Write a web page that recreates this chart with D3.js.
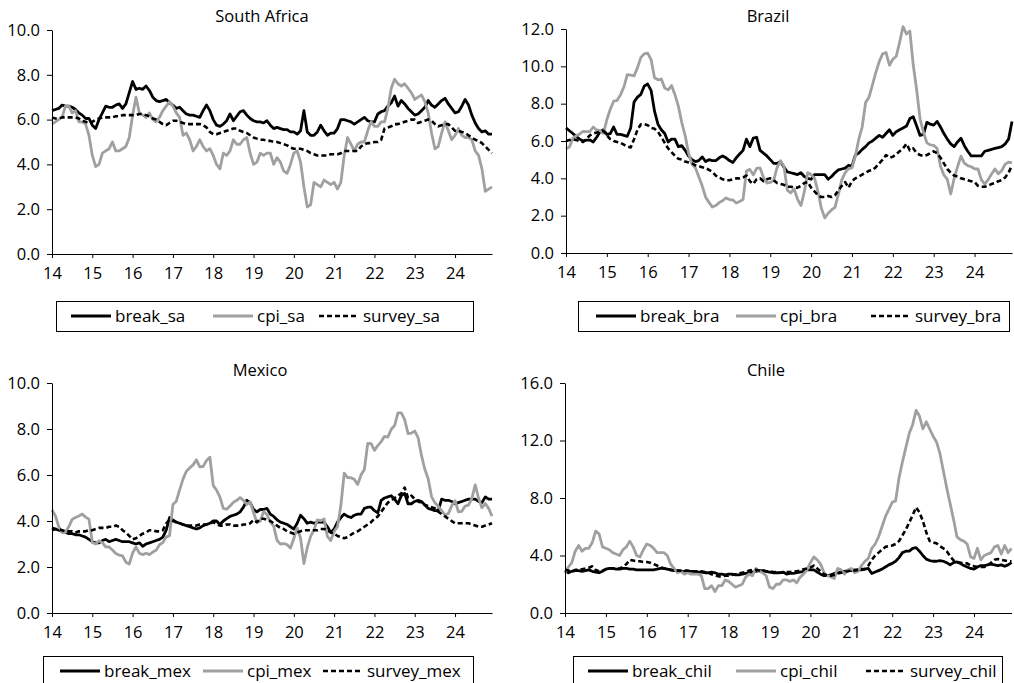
<!DOCTYPE html>
<html>
<head>
<meta charset="utf-8">
<script src="https://cdn.jsdelivr.net/npm/d3@7"></script>
<style>
  body { margin: 0; background: #fff; }
  text { font-family: "Open Sans", sans-serif; fill: #000; }
</style>
</head>
<body>
<svg id="chart" width="1014" height="683"></svg>
<script>

// monthly, Jan 2014 .. Dec 2024 (132 points)
const yearLabels = ["14","15","16","17","18","19","20","21","22","23","24"]
const seriesNames = ["break", "cpi", "survey"]

const sa_break = [6.4,6.45,6.5,6.65,6.6,6.6,6.55,6.45,6.3,6.2,6.05,6.05,
  5.75,5.6,6.0,6.3,6.6,6.55,6.55,6.65,6.7,6.5,6.7,7.2,
  7.7,7.35,7.4,7.35,7.5,7.3,7.0,6.85,6.8,6.85,6.9,6.75,
  6.65,6.5,6.55,6.4,6.25,6.2,6.2,6.15,6.1,6.4,6.65,6.4,
  6.0,5.75,5.7,5.8,5.95,6.25,5.95,6.15,6.35,6.4,6.2,6.05,
  5.95,5.9,5.9,5.85,5.95,5.75,5.6,5.65,5.6,5.55,5.55,5.45,
  5.45,5.35,5.5,6.4,5.45,5.3,5.3,5.45,5.75,5.5,5.3,5.4,
  5.4,5.6,6.0,6.0,5.95,5.9,5.8,5.9,6.0,6.1,5.95,5.9,
  5.9,6.25,6.35,6.4,6.6,6.75,7.05,6.6,6.85,6.7,6.5,6.35,
  6.2,6.25,6.4,6.55,6.85,6.65,6.55,6.7,6.85,6.95,6.7,6.5,
  6.3,6.35,6.6,6.9,6.65,6.2,5.85,5.6,5.45,5.5,5.35,5.35]
const sa_cpi = [5.8,5.9,6.0,6.1,6.6,6.6,6.3,6.4,5.9,5.9,5.8,5.3,
  4.4,3.9,4.0,4.5,4.6,4.7,5.0,4.6,4.6,4.7,4.8,5.2,
  6.2,7.0,6.3,6.2,6.1,6.3,6.0,5.9,6.1,6.4,6.6,6.8,
  6.6,6.3,6.1,5.3,5.4,5.1,4.6,4.8,5.1,4.8,4.6,4.7,
  4.4,4.0,3.8,4.5,4.4,4.6,5.1,4.9,4.9,5.1,5.2,4.5,
  4.0,4.1,4.5,4.4,4.5,4.5,4.0,4.3,4.1,3.7,3.6,4.0,
  4.5,4.6,4.1,3.0,2.1,2.2,3.2,3.1,3.0,3.3,3.2,3.1,
  3.2,2.9,3.2,4.4,5.2,4.9,4.6,4.9,5.0,5.0,5.5,5.9,
  5.7,5.7,5.9,5.9,6.5,7.4,7.8,7.6,7.5,7.6,7.4,7.2,
  6.9,7.0,7.1,6.8,6.3,5.4,4.7,4.8,5.4,5.9,5.5,5.1,
  5.3,5.6,5.3,5.2,5.2,5.1,4.6,4.4,3.8,2.8,2.9,3.0]
const sa_survey = [6.1,6.05,6.05,6.1,6.1,6.1,6.1,6.1,6.05,5.95,5.9,5.85,
  5.9,6.0,6.05,6.1,6.1,6.1,6.1,6.15,6.15,6.2,6.2,6.2,
  6.2,6.2,6.25,6.25,6.2,6.15,6.05,6.0,5.9,5.8,5.75,5.85,
  5.95,5.95,5.9,5.85,5.8,5.8,5.8,5.8,5.8,5.75,5.65,5.45,
  5.35,5.35,5.4,5.45,5.5,5.55,5.6,5.6,5.5,5.45,5.4,5.3,
  5.2,5.15,5.1,5.1,5.05,5.05,5.0,5.0,4.95,4.9,4.85,4.75,
  4.7,4.7,4.7,4.65,4.6,4.5,4.45,4.4,4.4,4.4,4.4,4.45,
  4.45,4.45,4.5,4.6,4.6,4.6,4.6,4.6,4.8,4.9,4.95,4.95,
  5.0,5.0,5.1,5.6,5.65,5.7,5.8,5.8,5.85,5.9,5.95,6.0,
  6.0,5.85,5.9,5.95,6.0,5.95,5.8,5.7,5.75,5.8,5.8,5.65,
  5.5,5.5,5.45,5.4,5.3,5.2,5.1,5.05,4.95,4.8,4.65,4.5]

const bra_break = [6.7,6.55,6.4,6.25,6.1,6.0,6.05,6.05,5.95,6.2,6.5,6.6,
  6.35,6.4,6.75,6.35,6.35,6.3,6.25,6.7,8.1,8.35,8.5,8.95,
  9.05,8.7,7.6,6.9,6.6,6.4,5.95,6.1,6.1,5.7,5.75,5.5,
  5.2,5.0,4.9,4.95,5.15,4.9,5.0,4.95,4.95,5.1,5.2,5.1,
  4.95,4.85,5.1,5.3,5.5,6.1,5.7,6.15,6.2,5.5,5.35,5.2,
  5.0,4.8,4.8,4.9,4.6,4.35,4.3,4.25,4.2,4.3,4.1,4.0,
  3.95,4.2,4.2,4.2,4.2,3.95,4.1,4.3,4.45,4.5,4.55,4.7,
  4.65,5.25,5.35,5.55,5.7,5.9,6.0,6.15,6.3,6.2,6.4,6.6,
  6.3,6.5,6.6,6.7,6.8,7.2,7.3,6.8,6.3,6.35,7.0,6.9,
  6.85,7.05,6.75,6.4,6.1,5.85,5.7,5.95,6.15,5.75,5.45,5.2,
  5.2,5.2,5.2,5.45,5.5,5.55,5.6,5.65,5.7,5.85,6.1,7.05]
const bra_cpi = [5.59,5.68,6.15,6.28,6.37,6.52,6.50,6.51,6.75,6.59,6.56,6.41,
  7.14,7.70,8.13,8.17,8.47,8.89,9.56,9.53,9.49,9.93,10.48,10.67,
  10.71,10.36,9.39,9.28,9.32,8.84,8.74,8.97,8.48,7.87,6.99,6.29,
  5.35,4.76,4.57,4.08,3.60,3.00,2.71,2.46,2.54,2.70,2.80,2.95,
  2.86,2.84,2.68,2.76,2.86,4.39,4.48,4.19,4.53,4.56,4.05,3.75,
  3.78,3.89,4.58,4.94,4.66,3.37,3.22,3.43,2.89,2.54,3.27,4.31,
  4.19,4.01,3.30,2.40,1.88,2.13,2.31,2.44,3.14,3.92,4.31,4.52,
  4.56,5.20,6.10,6.76,8.06,8.35,8.99,9.68,10.25,10.67,10.74,10.06,
  10.38,10.54,11.30,12.13,11.73,11.89,10.07,8.73,7.17,6.47,5.90,5.79,
  5.77,5.60,4.65,4.18,3.94,3.16,3.99,4.61,5.19,4.82,4.68,4.62,
  4.51,4.50,3.93,3.69,3.93,4.23,4.50,4.24,4.42,4.76,4.87,4.83]
const bra_survey = [6.0,6.05,6.1,6.05,6.0,5.95,6.1,6.3,6.4,6.45,6.5,6.55,
  6.3,6.1,6.0,5.95,5.9,5.8,5.7,5.65,6.1,6.6,6.9,6.9,
  6.85,6.7,6.65,6.5,6.2,5.9,5.6,5.4,5.2,5.05,5.0,4.9,
  4.85,4.8,4.7,4.65,4.6,4.55,4.45,4.35,4.15,4.05,3.95,3.9,
  3.9,3.95,4.0,4.0,4.05,4.15,3.85,3.7,3.95,4.0,3.85,3.95,
  4.0,3.9,3.75,3.7,3.65,3.55,3.55,3.5,3.5,3.6,3.75,3.8,
  3.5,3.3,3.1,3.0,3.0,3.05,3.0,3.1,3.35,3.6,3.8,3.5,
  3.85,4.0,4.1,4.2,4.3,4.4,4.45,4.6,4.8,5.0,5.25,5.1,
  5.15,5.3,5.45,5.6,5.85,5.5,5.6,5.35,5.25,5.2,5.25,5.35,
  5.45,5.35,5.1,4.8,4.5,4.3,4.15,4.1,4.0,3.95,3.9,3.85,
  3.8,3.6,3.55,3.55,3.6,3.7,3.75,3.85,3.9,4.05,4.3,4.7]

const mex_break = [3.7,3.65,3.6,3.55,3.5,3.45,3.45,3.4,3.4,3.35,3.3,3.2,
  3.1,3.05,3.05,3.15,3.2,3.1,3.15,3.2,3.15,3.1,3.1,3.1,
  3.05,3.0,3.05,2.9,3.0,3.05,3.1,3.15,3.2,3.3,3.6,4.15,
  4.05,3.95,3.9,3.85,3.8,3.75,3.7,3.65,3.7,3.8,3.85,3.9,
  4.0,4.0,3.85,4.0,4.1,4.2,4.25,4.3,4.4,4.6,4.9,4.8,
  4.5,4.4,4.5,4.5,4.55,4.3,4.2,4.05,3.95,3.9,3.85,3.75,
  3.65,3.9,4.25,4.1,3.9,3.95,3.9,3.95,3.95,3.95,3.75,3.5,
  3.65,3.95,4.15,4.3,4.2,4.15,4.25,4.3,4.3,4.55,4.6,4.6,
  4.45,4.35,4.9,5.0,5.05,5.1,4.95,4.75,5.1,5.2,4.75,4.75,
  4.85,4.9,4.85,4.7,4.55,4.5,4.45,4.45,4.95,4.9,4.9,4.85,
  4.75,4.8,4.85,4.9,4.95,4.95,4.95,4.85,4.8,5.05,4.95,4.95]
const mex_cpi = [4.48,4.23,3.76,3.50,3.51,3.75,4.07,4.15,4.22,4.30,4.17,4.08,
  3.07,3.00,3.14,3.06,2.88,2.87,2.74,2.59,2.52,2.48,2.21,2.13,
  2.61,2.87,2.60,2.54,2.60,2.54,2.65,2.73,2.97,3.06,3.31,3.36,
  4.72,4.86,5.35,5.82,6.16,6.31,6.44,6.66,6.35,6.37,6.63,6.77,
  5.55,5.34,5.04,4.55,4.51,4.65,4.81,4.90,5.02,4.90,4.72,4.83,
  4.37,3.94,4.00,4.41,4.28,3.95,3.78,3.16,3.00,3.02,2.97,2.83,
  3.24,3.70,3.25,2.15,2.84,3.33,3.62,4.05,4.01,4.09,3.33,3.15,
  3.54,3.76,4.67,6.08,5.89,5.88,5.81,5.59,6.00,6.24,7.37,7.36,
  7.07,7.28,7.45,7.68,7.65,7.99,8.15,8.70,8.70,8.41,7.80,7.82,
  7.91,7.62,6.85,6.25,5.84,5.06,4.79,4.64,4.45,4.26,4.32,4.66,
  4.88,4.40,4.42,4.65,4.69,4.98,5.57,4.99,4.58,4.76,4.55,4.21]
const mex_survey = [3.6,3.65,3.65,3.6,3.55,3.55,3.55,3.5,3.55,3.55,3.55,3.6,
  3.6,3.65,3.7,3.7,3.7,3.75,3.75,3.8,3.75,3.6,3.5,3.35,
  3.2,3.25,3.35,3.45,3.5,3.6,3.6,3.55,3.55,3.6,3.9,4.05,
  4.0,3.95,3.9,3.85,3.8,3.8,3.8,3.8,3.85,3.85,3.85,3.9,
  3.95,3.85,3.8,3.8,3.85,3.85,3.8,3.8,3.8,3.85,3.85,3.9,
  4.05,3.95,4.1,4.1,4.05,4.0,3.9,3.8,3.7,3.65,3.55,3.5,
  3.45,3.5,3.55,3.6,3.6,3.6,3.6,3.6,3.65,3.65,3.6,3.5,
  3.45,3.35,3.3,3.25,3.3,3.4,3.5,3.55,3.65,3.75,3.85,3.95,
  4.1,4.2,4.4,4.6,4.8,4.9,5.0,5.1,5.2,5.45,5.0,5.1,
  4.95,4.85,4.8,4.7,4.65,4.6,4.55,4.4,4.3,4.2,4.1,4.0,
  3.9,3.9,3.9,3.9,3.9,3.85,3.8,3.75,3.75,3.8,3.85,3.9]

const chil_break = [2.9,2.8,2.9,2.95,2.95,2.9,2.95,3.0,2.9,2.85,2.8,2.9,
  3.05,3.1,3.1,3.05,3.05,3.1,3.1,3.05,3.05,3.0,3.0,3.0,
  3.0,3.0,3.0,3.05,3.1,3.1,3.05,3.0,2.95,2.95,2.9,2.9,
  2.9,2.9,2.9,2.85,2.85,2.8,2.8,2.85,2.8,2.7,2.7,2.65,
  2.7,2.7,2.65,2.65,2.7,2.75,2.8,2.85,2.9,2.95,2.95,2.9,
  2.85,2.8,2.8,2.8,2.85,2.7,2.75,2.75,2.8,2.85,2.9,3.0,
  3.0,3.0,2.85,2.7,2.6,2.6,2.65,2.75,2.8,2.85,2.9,2.95,
  2.95,3.0,3.0,3.0,3.05,3.1,2.75,2.85,2.95,3.05,3.2,3.35,
  3.45,3.6,3.85,4.2,4.3,4.3,4.5,4.55,4.3,4.0,3.75,3.65,
  3.6,3.6,3.65,3.6,3.5,3.35,3.5,3.55,3.45,3.3,3.2,3.1,
  3.05,3.2,3.3,3.3,3.35,3.4,3.35,3.3,3.35,3.25,3.35,3.5]
const chil_cpi = [2.8,3.2,3.5,4.3,4.7,4.3,4.5,4.5,4.9,5.7,5.5,4.6,
  4.5,4.4,4.2,4.1,4.0,4.4,4.6,5.0,4.6,4.0,3.9,4.4,
  4.8,4.7,4.5,4.2,4.2,4.2,4.0,3.4,3.1,2.8,2.9,2.7,
  2.8,2.7,2.7,2.7,2.6,1.7,1.7,1.9,1.5,1.9,1.9,2.3,
  2.2,2.0,1.8,1.9,2.0,2.5,2.7,2.6,3.1,2.9,2.8,2.6,
  1.8,1.7,2.0,2.0,2.3,2.3,2.2,2.3,2.1,2.5,2.7,3.0,
  3.5,3.9,3.7,3.4,2.8,2.6,2.5,2.4,3.1,3.0,2.7,3.0,
  3.1,2.8,2.9,3.3,3.6,3.8,4.5,4.8,5.3,6.0,6.7,7.2,
  7.7,7.8,9.4,10.5,11.5,12.5,13.1,14.1,13.7,12.8,13.3,12.8,
  12.3,11.9,11.1,9.9,8.7,7.6,6.5,5.3,5.1,5.0,4.8,3.9,
  3.8,4.5,3.7,4.0,4.1,4.2,4.6,4.7,4.1,4.7,4.2,4.5]
const chil_survey = [3.0,2.95,2.9,3.0,3.0,3.05,3.1,3.15,3.25,3.0,2.9,2.95,
  3.05,3.1,3.1,3.1,3.1,3.2,3.4,3.7,3.65,3.6,3.6,3.55,
  3.55,3.5,3.4,3.3,3.2,3.1,3.05,3.0,2.95,2.95,2.95,2.95,
  2.95,2.9,2.9,2.9,2.9,2.85,2.8,2.7,2.6,2.55,2.55,2.6,
  2.6,2.65,2.7,2.75,2.8,2.85,2.95,3.0,3.0,2.95,2.95,2.9,
  2.9,2.85,2.85,2.8,2.8,2.85,2.85,2.9,2.9,2.95,3.05,3.1,
  3.15,3.3,3.1,2.9,2.7,2.6,2.6,2.65,2.75,2.8,2.85,2.9,
  2.95,2.95,3.0,3.05,3.05,3.3,3.7,4.0,4.2,4.4,4.6,4.65,
  4.7,4.8,5.0,5.4,5.8,6.3,6.8,7.35,7.0,6.4,5.6,5.0,
  4.9,4.85,4.65,4.5,4.3,3.95,3.65,3.55,3.5,3.45,3.45,3.3,
  3.25,3.2,3.2,3.2,3.3,3.5,3.7,3.75,3.7,3.65,3.6,3.6]

// line look for break / cpi / survey
const lineStyles = [
  { stroke: "#000000", width: 2.8, dash: null },
  { stroke: "#a0a0a0", width: 2.8, dash: null },
  { stroke: "#000000", width: 2.6, dash: "5,3" }
]

const panels = [
  { title: "South Africa", suffix: "sa", values: [sa_break, sa_cpi, sa_survey],
    yMax: 10, yStep: 2, xr: [52, 492], yr: [254, 30], titleX: 262, titleY: 22,
    legend: { x0: 56, x1: 473, y0: 301, y1: 331, textX: [115, 257, 363] } },
  { title: "Brazil", suffix: "bra", values: [bra_break, bra_cpi, bra_survey],
    yMax: 12, yStep: 2, xr: [566, 1012], yr: [253, 29], titleX: 768, titleY: 22,
    legend: { x0: 578, x1: 1009, y0: 301, y1: 331, textX: [640, 780, 915] } },
  { title: "Mexico", suffix: "mex", values: [mex_break, mex_cpi, mex_survey],
    yMax: 10, yStep: 2, xr: [52, 492], yr: [613, 383], titleX: 260, titleY: 376,
    legend: { x0: 43, x1: 473, y0: 656, y1: 686, textX: [104, 247, 367] } },
  { title: "Chile", suffix: "chil", values: [chil_break, chil_cpi, chil_survey],
    yMax: 16, yStep: 4, xr: [565, 1011.5], yr: [613, 383], titleX: 766, titleY: 376,
    legend: { x0: 573, x1: 1002, y0: 656, y1: 686, textX: [632, 780, 910] } }
]

const svg = d3.select("#chart")

panels.forEach(function (p) {
  const n = p.values[0].length
  const x = d3.scaleLinear().domain([0, n - 1]).range(p.xr)
  const y = d3.scaleLinear().domain([0, p.yMax]).range(p.yr)

  const g = svg.append("g").attr("class", "panel-" + p.suffix)

  g.append("text")
   .attr("x", p.titleX)
   .attr("y", p.titleY)
   .attr("text-anchor", "middle")
   .attr("font-size", 16.5)
   .text(p.title)

  const line = d3.line()
                 .x((d, i) => x(i))
                 .y(d => y(d))

  p.values.forEach(function (vals, k) {
    const st = lineStyles[k]
    g.append("path")
     .datum(vals)
     .attr("fill", "none")
     .attr("stroke", st.stroke)
     .attr("stroke-width", st.width)
     .attr("stroke-linejoin", "round")
     .attr("stroke-dasharray", st.dash)
     .attr("d", line)
  })

  g.append("g")
   .attr("transform", "translate(" + p.xr[0] + ",0)")
   .call(d3.axisLeft(y)
           .tickValues(d3.range(0, p.yMax + 0.001, p.yStep))
           .tickFormat(d3.format(".1f"))
           .tickSize(5)
           .tickPadding(7)
           .tickSizeOuter(0))

  g.append("g")
   .attr("transform", "translate(0," + p.yr[0] + ")")
   .call(d3.axisBottom(x)
           .tickValues(d3.range(0, n, 12))
           .tickFormat((d, i) => yearLabels[i])
           .tickSize(4)
           .tickPadding(9)
           .tickSizeOuter(0))

  g.selectAll(".tick text")
   .attr("font-size", 16.5)
   .attr("font-family", "Open Sans, sans-serif")
   .attr("fill", "#000")
  g.selectAll(".domain, .tick line").attr("stroke", "#000")

  // legend
  const L = p.legend
  g.append("rect")
   .attr("x", L.x0 + 0.5)
   .attr("y", L.y0 + 0.5)
   .attr("width", L.x1 - L.x0)
   .attr("height", L.y1 - L.y0)
   .attr("fill", "#fff")
   .attr("stroke", "#000")
   .attr("stroke-width", 1)

  seriesNames.forEach(function (name, k) {
    const st = lineStyles[k]
    const tx = L.textX[k]
    const ly = L.y0 + 15
    g.append("line")
     .attr("x1", tx - 44)
     .attr("x2", tx - 4)
     .attr("y1", ly)
     .attr("y2", ly)
     .attr("stroke", st.stroke)
     .attr("stroke-width", st.width)
     .attr("stroke-dasharray", st.dash)
    g.append("text")
     .attr("x", tx)
     .attr("y", ly + 6)
     .attr("font-size", 17)
     .text(name + "_" + p.suffix)
  })
})

</script>
</body>
</html>
